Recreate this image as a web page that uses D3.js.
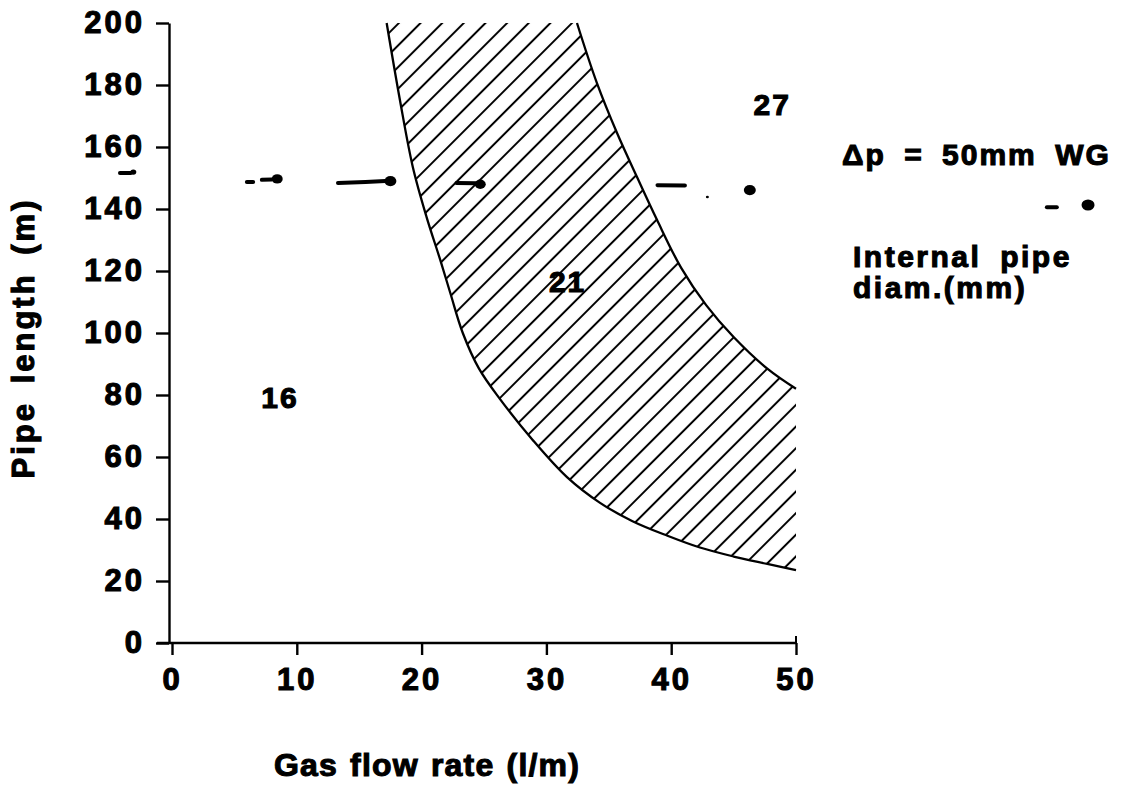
<!DOCTYPE html>
<html><head><meta charset="utf-8">
<script src="https://cdn.jsdelivr.net/npm/d3@7"></script>
<style>
body{margin:0;background:#fff}
text{font-family:"Liberation Sans",Arial,Helvetica,sans-serif;font-weight:700;fill:#000}
</style>
</head><body>
<svg id="c" width="1143" height="785"></svg>
<script>
// ---- data ----
const xTicks = [0, 10, 20, 30, 40, 50];
const yTicks = [0, 20, 40, 60, 80, 100, 120, 140, 160, 180, 200];
const xTitle = "Gas flow rate (l/m)";
const yTitle = "Pipe length (m)";
// lower boundary (16 / 21 transition)
const leftCurve = [[17.2,200],[18.27,175],[19.3,153.5],[20.4,137.4],[21.5,123.5],[22.3,112.9],[23.3,100],[24.6,88.5],[26.3,78.6],[28.9,65.5],[31.65,53.5],[34.3,45.2],[36.9,39.3],[39.7,34.6],[42.3,30.8],[45,27.9],[47.7,25.5],[50,23.5]];
// upper boundary (21 / 27 transition)
const rightCurve = [[32.45,200],[34.05,180.6],[35.66,164.5],[37.26,150.3],[38.86,136.5],[40.8,121],[42.8,109],[45,98.7],[47.7,88.5],[50,82]];
// broken dash-dot line (delta p = 50 mm WG)
const dashSegments = [[[-4.17,151.6],[-3.3,151.6]],[[6.0,148.7],[6.5,148.7]],[[7.2,149.4],[8.0,149.5]],[[13.3,148.4],[15.5,148.7],[17.1,149]],[[22.8,148.4],[24.4,148.3]],[[38.9,147.7],[41.1,147.6]],[[70.1,140.6],[70.9,140.6]]];
const dashDots = [[-3.1,151.9,3],[8.43,149.7,5.5],[17.5,149,6],[24.7,148,5.5],[42.9,143.9,1.5],[46.3,146.1,6],[73.4,141.3,6.5]];
const regionLabels = [{t:"16",x:8.65,y:75.8},{t:"21",x:31.7,y:113.2},{t:"27",x:48.1,y:170.3}];

// ---- chart ----
const svg = d3.select("#c");
const x = d3.scaleLinear().domain([0,50]).range([172,796]);
const y = d3.scaleLinear().domain([0,200]).range([643,23]);

const defs = svg.append("defs");
const pat = defs.append("pattern").attr("id","hatch").attr("patternUnits","userSpaceOnUse")
  .attr("width",15.3).attr("height",15.3).attr("patternTransform","rotate(45)");
pat.append("line").attr("x1",7.65).attr("x2",7.65).attr("y1",0).attr("y2",15.3)
  .attr("stroke","#000").attr("stroke-width",2);

const line = d3.line().x(d=>x(d[0])).y(d=>y(d[1])).curve(d3.curveCatmullRom.alpha(0.5));

function sample(pts){
  const p = svg.append("path").attr("d", line(pts)).attr("fill","none");
  const node = p.node(), L = node.getTotalLength(), out=[];
  for(let i=0;i<=300;i++){const q=node.getPointAtLength(L*i/300); out.push([q.x,q.y]);}
  p.remove(); return out;
}
const lp = sample(leftCurve), rp = sample(rightCurve).reverse();
const poly = lp.concat(rp);
svg.append("path").attr("d","M"+poly.map(p=>p.join(",")).join("L")+"Z")
  .attr("fill","url(#hatch)").attr("stroke","none");

svg.append("path").attr("d",line(leftCurve)).attr("fill","none").attr("stroke","#000").attr("stroke-width",2.3);
svg.append("path").attr("d",line(rightCurve)).attr("fill","none").attr("stroke","#000").attr("stroke-width",2.3);

// axes
const yAxis = d3.axisLeft(y).tickValues(yTicks).tickSize(13).tickPadding(11).tickSizeOuter(0).tickFormat(d3.format("d"));
const gy = svg.append("g").attr("transform","translate(169,0)").call(yAxis);
const xAxis = d3.axisBottom(x).tickValues(xTicks).tickSize(12).tickPadding(13).tickSizeOuter(0).tickFormat(d3.format("d"));
const gx = svg.append("g").attr("transform","translate(0,643)").call(xAxis);
gx.select(".domain").remove();
svg.append("line").attr("x1",157).attr("x2",x(50)).attr("y1",643).attr("y2",643).attr("stroke","#000").attr("stroke-width",2.6);
svg.append("line").attr("x1",x(50)).attr("x2",x(50)).attr("y1",636).attr("y2",643).attr("stroke","#000").attr("stroke-width",2);
[gx,gy].forEach(g=>{
  g.selectAll("path,line").attr("stroke","#000").attr("stroke-width",2.4);
  g.selectAll("text").attr("font-size",31).attr("font-family",'"Liberation Sans",Arial,sans-serif')
   .attr("font-weight",700).attr("letter-spacing",3).attr("stroke","#000").attr("stroke-width",1.1);
});

// dash-dot line
svg.append("g").selectAll("path").data(dashSegments).join("path")
  .attr("d", d3.line().x(d=>x(d[0])).y(d=>y(d[1])))
  .attr("fill","none").attr("stroke","#000").attr("stroke-width",4).attr("stroke-linecap","round");
svg.append("g").selectAll("ellipse").data(dashDots).join("ellipse")
  .attr("cx",d=>x(d[0])).attr("cy",d=>y(d[1])).attr("rx",d=>d[2]).attr("ry",d=>d[2]*0.85).attr("fill","#000");

// region labels
svg.append("g").selectAll("text").data(regionLabels).join("text")
  .attr("x",d=>x(d.x)).attr("y",d=>y(d.y)).attr("text-anchor","middle")
  .attr("font-size",30).attr("letter-spacing",2).attr("stroke","#000").attr("stroke-width",1.1).text(d=>d.t);

// titles
svg.append("text").attr("x",427).attr("y",776).attr("text-anchor","middle").attr("font-size",32)
  .attr("letter-spacing",1.2).attr("word-spacing",2).attr("stroke","#000").attr("stroke-width",1.1).text(xTitle);
svg.append("text").attr("transform","translate(34,338) rotate(-90)").attr("text-anchor","middle")
  .attr("font-size",31).attr("letter-spacing",3).attr("word-spacing",6).attr("stroke","#000").attr("stroke-width",1.1).text(yTitle);

// legend text
svg.append("text").attr("x",842).attr("y",165).attr("font-size",30).attr("letter-spacing",2)
  .attr("word-spacing",8).attr("stroke","#000").attr("stroke-width",1.1).text("Δp = 50mm WG");
svg.append("text").attr("x",853).attr("y",267).attr("font-size",30).attr("letter-spacing",2.5)
  .attr("word-spacing",8).attr("stroke","#000").attr("stroke-width",1.1).text("Internal pipe");
svg.append("text").attr("x",853).attr("y",298).attr("font-size",30).attr("letter-spacing",2.5)
  .attr("word-spacing",2).attr("stroke","#000").attr("stroke-width",1.1).text("diam.(mm)");
</script>
</body></html>
